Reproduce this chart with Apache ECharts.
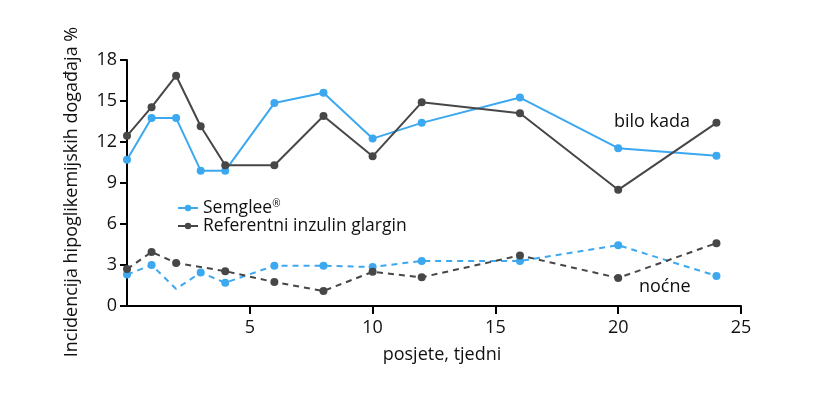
<!DOCTYPE html>
<html><head><meta charset="utf-8">
<script src="https://cdn.jsdelivr.net/npm/echarts@6/dist/echarts.min.js"></script>
<style>html,body{margin:0;padding:0;background:#fff}#c{width:821px;height:397px}</style>
</head><body><div id="c"></div>
<script>
const weeks = [0, 1, 2, 3, 4, 6, 8, 10, 12, 16, 20, 24];
const semgleeAny = [10.7, 13.75, 13.75, 9.9, 9.9, 14.85, 15.6, 12.25, 13.4, 15.25, 11.55, 11.0];
const refAny = [12.45, 14.55, 16.85, 13.15, 10.3, 10.3, 13.9, 10.95, 14.9, 14.1, 8.5, 13.4];
const semgleeNight = [2.3, 3.0, 1.25, 2.45, 1.7, 2.95, 2.95, 2.85, 3.3, 3.3, 4.45, 2.2];
const refNightWeeks = [0, 1, 2, 4, 6, 8, 10, 12, 16, 20, 24];
const refNight = [2.7, 3.95, 3.15, 2.55, 1.75, 1.1, 2.5, 2.1, 3.7, 2.05, 4.6];
const hiddenMarkers = [2]; // semgleeNight index drawn without marker
const BLUE = '#3ba8ef', DARK = '#474747';
const FONT = '"Open Sans", sans-serif';

function pairs(xs, ys, hide) {
  return xs.map((x, i) => (hide && hide.includes(i)) ? {value: [x, ys[i]], symbol: 'none'} : [x, ys[i]]);
}
const chart = echarts.init(document.getElementById('c'));
const base = {type: 'line', symbol: 'circle', symbolSize: 8, z: 3};
chart.setOption({
  animation: false,
  textStyle: {fontFamily: FONT},
  grid: {left: 127, right: 80, top: 60, bottom: 91},
  legend: {
    orient: 'vertical', left: 172, top: 194, itemGap: 0, itemWidth: 20, itemHeight: 8,
    formatter: function (n) { return n === 'Semglee®' ? 'Semglee{sup|®}' : n; },
    textStyle: {fontFamily: FONT, fontSize: 17.5, color: '#111',
      rich: {sup: {fontSize: 10, verticalAlign: 'top', padding: [0, 0, 8, 0], fontFamily: FONT, color: '#111'}}},
    data: ['Semglee®', 'Referentni inzulin glargin']
  },
  xAxis: {
    type: 'value', min: 0, max: 25, interval: 5,
    name: 'posjete, tjedni', nameLocation: 'middle', nameGap: 40,
    nameTextStyle: {fontFamily: FONT, fontSize: 18, color: '#111', padding: [0, 0, 0, 16]},
    axisLine: {lineStyle: {color: '#000', width: 2}},
    axisTick: {show: true, length: 8, lineStyle: {color: '#000', width: 2}},
    axisLabel: {showMinLabel: false, fontFamily: FONT, fontSize: 18, color: '#111', margin: 13},
    splitLine: {show: false}
  },
  yAxis: {
    type: 'value', min: 0, max: 18, interval: 3,
    name: 'Incidencija hipoglikemijskih događaja %', nameLocation: 'middle', nameGap: 46,
    nameTextStyle: {fontFamily: FONT, fontSize: 18, color: '#111', padding: [0, 18, 0, 0]},
    axisLine: {show: true, lineStyle: {color: '#000', width: 2}},
    axisTick: {show: true, length: 7, lineStyle: {color: '#000', width: 2}},
    axisLabel: {fontFamily: FONT, fontSize: 18, color: '#111', margin: 10},
    splitLine: {show: false}
  },
  series: [
    Object.assign({}, base, {name: 'Semglee®', data: pairs(weeks, semgleeAny), itemStyle: {color: BLUE}, lineStyle: {color: BLUE, width: 2}}),
    Object.assign({}, base, {name: 'Referentni inzulin glargin', data: pairs(weeks, refAny), itemStyle: {color: DARK}, lineStyle: {color: DARK, width: 2}}),
    Object.assign({}, base, {name: 'Semglee® noćne', data: pairs(weeks, semgleeNight, hiddenMarkers), itemStyle: {color: BLUE}, lineStyle: {color: BLUE, width: 2, type: [6, 5]}}),
    Object.assign({}, base, {name: 'Ref noćne', data: pairs(refNightWeeks, refNight), itemStyle: {color: DARK}, lineStyle: {color: DARK, width: 2, type: [6, 5]}})
  ],
  graphic: [
    {type: 'text', left: 614, top: 113, style: {text: 'bilo kada', font: '18px "Open Sans", sans-serif', fill: '#111'}},
    {type: 'text', left: 639, top: 278, style: {text: 'noćne', font: '18px "Open Sans", sans-serif', fill: '#111'}}
  ]
});
</script></body></html>
